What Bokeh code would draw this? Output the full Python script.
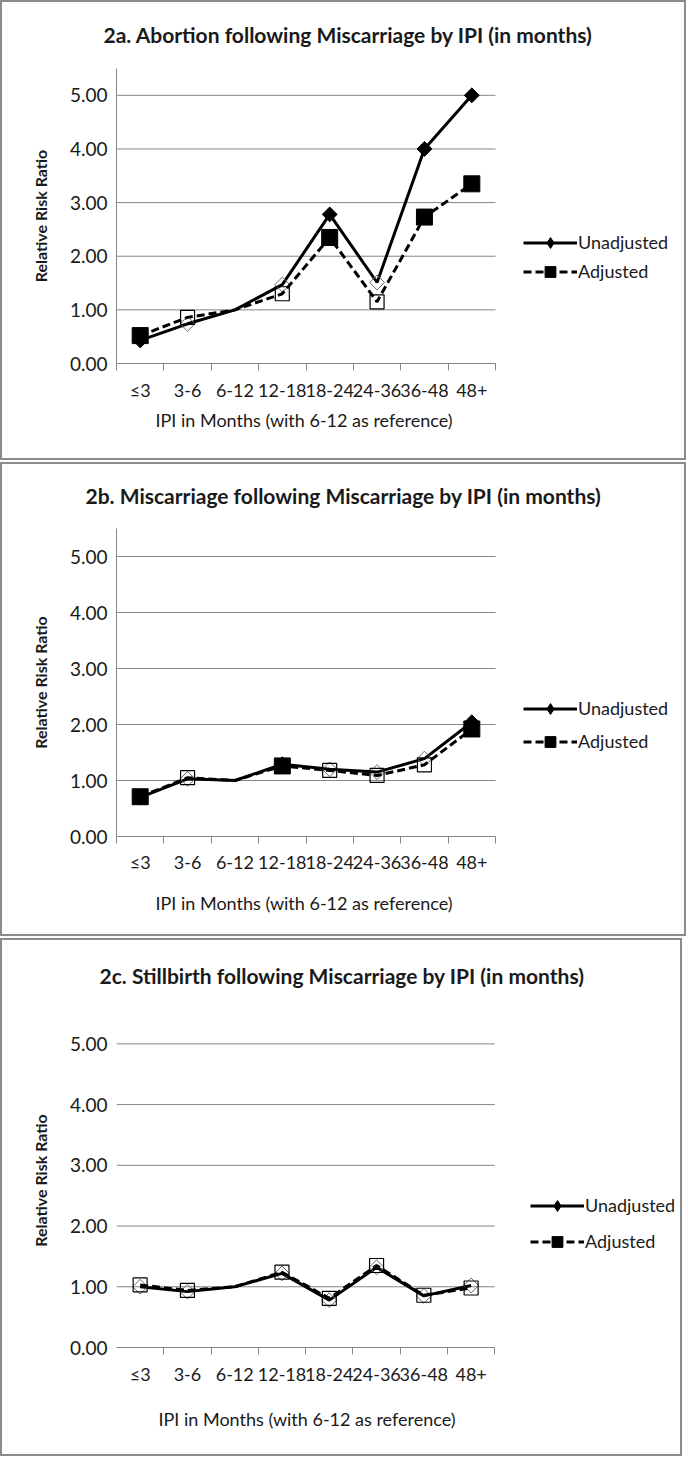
import math
from bokeh.plotting import figure
from bokeh.layouts import column
from bokeh.models import (ColumnDataSource, Range1d, FixedTicker, NumeralTickFormatter,
                          CustomJSTickFormatter, Legend, LegendItem, LinearAxis, Title)
from bokeh.embed import file_html
from bokeh.resources import INLINE

# ---------------- data ----------------
categories = ["≤3", "3-6", "6-12", "12-18", "18-24", "24-36", "36-48", "48+"]

a_unadjusted = [0.43, 0.74, 1.00, 1.47, 2.78, 1.51, 4.00, 5.00]
a_adjusted = [0.52, 0.86, 1.00, 1.30, 2.35, 1.15, 2.73, 3.35]
# 1 = significant (filled marker), 0 = not significant (hollow marker), None = reference
a_unadjusted_sig = [1, 0, None, 0, 1, 0, 1, 1]
a_adjusted_sig = [1, 0, None, 0, 1, 0, 1, 1]

b_unadjusted = [0.70, 1.03, 1.00, 1.29, 1.20, 1.15, 1.39, 2.04]
b_adjusted = [0.71, 1.05, 1.00, 1.26, 1.18, 1.09, 1.28, 1.92]
b_unadjusted_sig = [1, 0, None, 1, 0, 0, 0, 1]
b_adjusted_sig = [1, 0, None, 1, 0, 0, 0, 1]

c_unadjusted = [1.00, 0.92, 1.00, 1.22, 0.78, 1.32, 0.85, 1.02]
c_adjusted = [1.03, 0.94, 1.00, 1.24, 0.81, 1.35, 0.86, 0.98]
c_unadjusted_sig = [0, 0, None, 0, 0, 0, 0, 0]
c_adjusted_sig = [0, 0, None, 0, 0, 0, 0, 0]

titles = [
    "2a.  Abortion following Miscarriage by IPI (in months)",
    "2b.  Miscarriage following Miscarriage by IPI (in months)",
    "2c.  Stillbirth following Miscarriage by IPI (in months)",
]
y_ticks = [0, 1, 2, 3, 4, 5]
series_names = ["Unadjusted", "Adjusted"]
x_title = "IPI in Months (with 6-12 as reference)"
y_title = "Relative Risk Ratio"

# ---------------- style ----------------
FONT = "Lato"
GRID = "#868686"
TEXT = "#1a1a1a"
Y_MAX = 5.5
RIGHT_PAD = 6
TITLE_H = 26


def make_panel(title, unadj, adj, unadj_sig, adj_sig, *, width, height, left, plot_w,
               top, frame_h, title_start, row1, row2,
               lab_standoff, xtitle_start, xtitle_standoff, show_yline=True):
    bottom = height - top - frame_h
    n = len(categories)
    frame_w = width - left - RIGHT_PAD
    x_end = n * frame_w / plot_w          # plot region occupies [0, n]; legend sits to the right
    p = figure(width=width, height=height, x_range=Range1d(0, x_end), y_range=Range1d(0, Y_MAX),
               output_backend="svg", toolbar_location=None, x_axis_location=None,
               min_border_left=left, min_border_right=RIGHT_PAD,
               min_border_top=top, min_border_bottom=bottom)
    p.outline_line_color = None
    p.background_fill_color = None
    p.border_fill_color = None
    p.styles = {"box-shadow": "inset 0 0 0 2px #8c8c8c", "background-color": "white"}
    p.xgrid.visible = False
    p.ygrid.visible = False

    # title (fills the top border area, text centred vertically in it)
    p.title.text = title
    p.title.align = "left"
    p.title.vertical_align = "top"
    p.title.offset = title_start - left
    p.title.standoff = top - 2 - TITLE_H
    p.title.text_font = FONT
    p.title.text_font_style = "bold"
    p.title.text_font_size = "21px"
    p.title.text_color = TEXT

    # y axis
    ya = p.yaxis[0]
    ya.ticker = FixedTicker(ticks=y_ticks)
    ya.formatter = NumeralTickFormatter(format="0.00")
    ya.major_tick_line_color = None
    ya.minor_tick_line_color = None
    ya.major_tick_out = 0
    ya.major_tick_in = 0
    ya.minor_tick_out = 0
    ya.minor_tick_in = 0
    ya.major_label_standoff = 9
    ya.axis_line_color = GRID if show_yline else None
    ya.major_label_text_font = FONT
    ya.major_label_text_font_size = "19px"
    ya.major_label_text_color = TEXT
    ya.axis_label = y_title
    ya.axis_label_text_font = FONT
    ya.axis_label_text_font_style = "bold"
    ya.axis_label_text_font_size = "16px"
    ya.axis_label_text_color = TEXT
    ya.axis_label_standoff = 17

    # horizontal gridlines limited to the plot region [0, n]
    gl = y_ticks[1:]
    p.segment(x0=[0] * len(gl), x1=[n] * len(gl), y0=gl, y1=gl,
              line_color=GRID, line_width=1)

    # x axis: labels at category centres, tick marks at category boundaries
    first_tick = 0 if show_yline else 1
    xl = LinearAxis(ticker=FixedTicker(ticks=[i + 0.5 for i in range(n)],
                                       minor_ticks=list(range(first_tick, n + 1))),
                    formatter=CustomJSTickFormatter(args=dict(cats=categories),
                                                    code="return cats[Math.floor(tick)];"))
    xl.bounds = (0, n)
    xl.axis_line_color = GRID
    xl.major_tick_line_color = None
    xl.major_tick_out = 0
    xl.major_tick_in = 0
    xl.minor_tick_line_color = GRID
    xl.minor_tick_out = 7
    xl.minor_tick_in = 0
    xl.major_label_standoff = lab_standoff
    xl.major_label_text_font = FONT
    xl.major_label_text_font_size = "18px"
    xl.major_label_text_color = TEXT
    p.add_layout(xl, "below")

    # x axis title, centred under the plot region
    p.add_layout(Title(text=x_title, align="left", offset=xtitle_start - left,
                       vertical_align="top", standoff=xtitle_standoff,
                       text_font=FONT, text_font_style="normal", text_font_size="18px",
                       text_color=TEXT), "below")

    xs = [i + 0.5 for i in range(n)]

    def markers(vals, sig, want):
        idx = [i for i, s in enumerate(sig) if s == want]
        return ColumnDataSource(dict(x=[xs[i] for i in idx], y=[vals[i] for i in idx]))

    # unadjusted series
    l1 = p.line(xs, unadj, line_color="black", line_width=3)
    p.scatter("x", "y", source=markers(unadj, unadj_sig, 0), marker="square",
              angle=math.pi / 4, size=10.5, fill_color=None, line_color="#6a6a6a", line_width=1)
    p.scatter("x", "y", source=markers(unadj, unadj_sig, 1), marker="square",
              angle=math.pi / 4, size=10.5, fill_color="black", line_color="black")
    # adjusted series
    l2 = p.line(xs, adj, line_color="black", line_width=3, line_dash="8 4")
    p.scatter("x", "y", source=markers(adj, adj_sig, 0), marker="square",
              size=14, fill_color=None, line_color="black", line_width=1.2)
    p.scatter("x", "y", source=markers(adj, adj_sig, 1), marker="square",
              size=16, fill_color="black", line_color="black")

    # legend-only marker renderers (no visible data)
    lm1 = p.scatter(x=[math.nan], y=[math.nan], marker="diamond",
                    size=10, fill_color="black", line_color="black")
    lm2 = p.scatter(x=[math.nan], y=[math.nan], marker="square",
                    size=12, fill_color="black", line_color="black")

    row_h = 27
    spacing = max((row2 - row1) - row_h, 0)
    vy = (top + frame_h) - (row2 + row_h / 2)
    legend = Legend(items=[LegendItem(label=series_names[0], renderers=[l1, lm1]),
                           LegendItem(label=series_names[1], renderers=[l2, lm2])],
                    location=(523 - left, vy))
    legend.border_line_color = None
    legend.background_fill_alpha = 0
    legend.padding = 0
    legend.margin = 0
    legend.spacing = int(spacing)
    legend.glyph_width = 54
    legend.glyph_height = row_h
    legend.label_height = row_h
    legend.label_standoff = 1
    legend.label_text_font = FONT
    legend.label_text_font_size = "18px"
    legend.label_text_color = TEXT
    legend.label_text_baseline = "middle"
    p.add_layout(legend)
    return p


pa = make_panel(titles[0], a_unadjusted, a_adjusted, a_unadjusted_sig, a_adjusted_sig,
                width=686, height=460, left=116, plot_w=379, top=68, frame_h=295,
                title_start=103, row1=242, row2=271,
                lab_standoff=8, xtitle_start=155, xtitle_standoff=10)
pb = make_panel(titles[1], b_unadjusted, b_adjusted, b_unadjusted_sig, b_adjusted_sig,
                width=686, height=474, left=116, plot_w=379, top=66, frame_h=308,
                title_start=85, row1=246, row2=279,
                lab_standoff=7, xtitle_start=155, xtitle_standoff=32)
pc = make_panel(titles[2], c_unadjusted, c_adjusted, c_unadjusted_sig, c_adjusted_sig,
                width=682, height=518, left=109, plot_w=383, top=75, frame_h=334,
                title_start=92, row1=267, row2=303,
                lab_standoff=8, xtitle_start=151, xtitle_standoff=40, show_yline=False)

layout = column(pa, pb, pc, spacing=2)
open("out.html", "w").write(file_html(layout, INLINE))
